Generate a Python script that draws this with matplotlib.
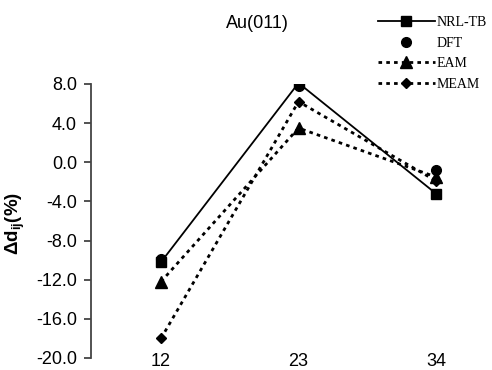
import matplotlib.pyplot as plt

plt.rcParams['font.family'] = ['Liberation Sans', 'DejaVu Sans']
plt.rcParams['mathtext.fontset'] = 'custom'
plt.rcParams['mathtext.rm'] = 'Liberation Sans'
plt.rcParams['mathtext.bf'] = 'Liberation Sans:bold'

# layer spacings and relaxation values (%)
layers = ['12', '23', '34']
nrl_tb = [-10.2, 8.1, -3.2]
dft = [-9.9, 7.8, -0.8]
eam = [-12.2, 3.5, -1.5]
meam = [-18.0, 6.2, -1.9]

x = list(range(len(layers)))

fig = plt.figure(figsize=(4.92, 3.70), dpi=100)
ax = fig.add_axes([91/492, 1 - 358/370, (486 - 91)/492, (358 - 84)/370])

dot = (0, (1.3, 1.5))
ax.plot(x, eam, color='k', lw=2.0, linestyle=dot, marker='^', ms=8, label='EAM', zorder=2)
ax.plot(x, meam, color='k', lw=2.0, linestyle=dot, marker='D', ms=5.5, label='MEAM', zorder=3)
ax.plot(x, nrl_tb, color='k', lw=1.3, marker='s', ms=7, label='NRL-TB', zorder=4)
ax.plot(x, dft, color='k', lw=0, marker='o', ms=7, label='DFT', zorder=5)

ax.set_xlim(-70/137.5, 2 + 50/137.5)
ax.set_ylim(-20, 8)
ax.set_yticks([8, 4, 0, -4, -8, -12, -16, -20])
ax.set_yticklabels([f'{v:.1f}' for v in [8, 4, 0, -4, -8, -12, -16, -20]])
ax.set_xticks(x)
ax.set_xticklabels(layers)

for s in ['top', 'right', 'bottom']:
    ax.spines[s].set_visible(False)
ax.spines['left'].set_color('#444444')
ax.spines['left'].set_linewidth(1.3)
ax.tick_params(axis='y', direction='out', length=5, width=1.3, color='#444444',
               labelsize=13, pad=5)
ax.tick_params(axis='x', length=0, labelsize=13, pad=-3.5)
for lbl in ax.get_xticklabels():
    lbl.set_verticalalignment('top')

ax.set_ylabel('Δ$\\mathbf{d_{ij}}$(%)', fontsize=13.5, fontweight='bold')
ax.yaxis.set_label_coords(-0.163, 0.49)

fig.text(257/492, 1 - 23/370, 'Au(011)', fontsize=13, ha='center', va='center')

handles, labels = ax.get_legend_handles_labels()
order = [2, 3, 0, 1]
leg = fig.legend([handles[i] for i in order], [labels[i] for i in order],
                 loc='upper left', bbox_to_anchor=(378/492, 1 - 16/370),
                 frameon=False, prop={'family': 'Liberation Serif', 'size': 10},
                 handlelength=4.1, handletextpad=0.15, labelspacing=0.55,
                 borderpad=0, borderaxespad=0)

fig.savefig('out.png', dpi=100)
